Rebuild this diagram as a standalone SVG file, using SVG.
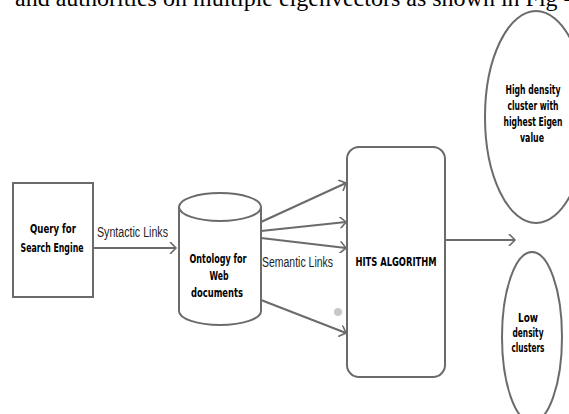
<svg xmlns="http://www.w3.org/2000/svg" width="569" height="414" viewBox="0 0 569 414">
<defs>
<marker id="chev" markerWidth="10" markerHeight="12" refX="8" refY="6" orient="auto" markerUnits="userSpaceOnUse">
<path d="M2,0 L8,6 L2,12" fill="none" stroke="#6b6b6b" stroke-width="1.6"/>
</marker>
</defs>
<style>
.shape{fill:#fff;stroke:#6b6b6b;stroke-width:2}
.edge{fill:none;stroke:#6b6b6b;stroke-width:2.2;marker-end:url(#chev)}
.lbl{font-family:"DejaVu Sans Condensed","DejaVu Sans",sans-serif;font-weight:bold;font-size:12.5px;fill:#000;text-anchor:middle}
.elbl{font-family:"Liberation Sans",Arial,sans-serif;font-size:14px;fill:#222}
.top{font-family:"Liberation Serif","Times New Roman",serif;font-size:24px;fill:#000}
</style>
<rect width="569" height="414" fill="#fff"/>
<text class="top" x="15" y="6">and authorities on multiple eigenvectors as shown in Fig -</text>
<g id="connectors">
<line class="edge" x1="93" y1="248" x2="176" y2="248"/>
<line class="edge" x1="261" y1="222" x2="346" y2="183"/>
<line class="edge" x1="261" y1="231" x2="346" y2="222"/>
<line class="edge" x1="261" y1="238" x2="346" y2="248"/>
<line class="edge" x1="261" y1="300" x2="346" y2="333"/>
<line class="edge" x1="445" y1="240" x2="515" y2="240"/>
<text class="elbl" x="97" y="237" textLength="71" lengthAdjust="spacingAndGlyphs">Syntactic Links</text>
<text class="elbl" x="262" y="267" textLength="71" lengthAdjust="spacingAndGlyphs">Semantic Links</text>
<circle cx="338" cy="312" r="4" fill="#c8c8c8"/>
</g>
<g id="query">
<rect class="shape" x="13" y="183" width="80" height="114"/>
<text class="lbl" x="53" y="233" textLength="46" lengthAdjust="spacingAndGlyphs">Query for</text>
<text class="lbl" x="52" y="252" textLength="63" lengthAdjust="spacingAndGlyphs">Search Engine</text>
</g>
<g id="ontology">
<path class="shape" d="M179,207 L179,311 A41,14 0 0 0 261,311 L261,207 A41,14 0 0 0 179,207 Z"/>
<path class="shape" d="M179,207 A41,14 0 0 0 261,207" fill="none"/>
<text class="lbl" x="218" y="263" textLength="57" lengthAdjust="spacingAndGlyphs">Ontology for</text>
<text class="lbl" x="219" y="280" textLength="19" lengthAdjust="spacingAndGlyphs">Web</text>
<text class="lbl" x="217" y="297" textLength="52" lengthAdjust="spacingAndGlyphs">documents</text>
</g>
<g id="hits">
<rect class="shape" x="347" y="147" width="98" height="230" rx="12"/>
<text class="lbl" x="396" y="266" textLength="81" lengthAdjust="spacingAndGlyphs">HITS ALGORITHM</text>
</g>
<g id="high">
<ellipse class="shape" cx="536" cy="117" rx="51" ry="106"/>
<text class="lbl" x="533" y="94" textLength="55" lengthAdjust="spacingAndGlyphs">High density</text>
<text class="lbl" x="533" y="110" textLength="51" lengthAdjust="spacingAndGlyphs">cluster with</text>
<text class="lbl" x="533" y="126" textLength="59" lengthAdjust="spacingAndGlyphs">highest Eigen</text>
<text class="lbl" x="532" y="142" textLength="24" lengthAdjust="spacingAndGlyphs">value</text>
</g>
<g id="low">
<ellipse class="shape" cx="532" cy="337" rx="30" ry="85"/>
<text class="lbl" x="528" y="322" textLength="20" lengthAdjust="spacingAndGlyphs">Low</text>
<text class="lbl" x="528" y="337" textLength="31" lengthAdjust="spacingAndGlyphs">density</text>
<text class="lbl" x="528" y="352" textLength="33" lengthAdjust="spacingAndGlyphs">clusters</text>
</g>
</svg>
